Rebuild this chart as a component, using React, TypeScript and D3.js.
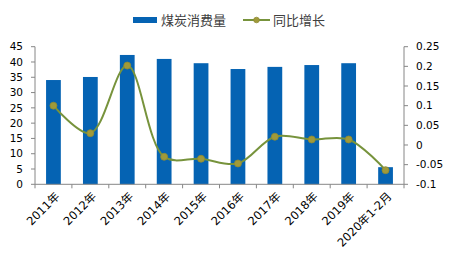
import React from "react";
import * as d3 from "d3";

const categories = ["2011年", "2012年", "2013年", "2014年", "2015年", "2016年", "2017年", "2018年", "2019年", "2020年1-2月"];
const consumption = [34.1, 35.1, 42.3, 41.0, 39.6, 37.7, 38.4, 39.0, 39.6, 5.6];
const growth = [0.1, 0.03, 0.202, -0.03, -0.035, -0.047, 0.021, 0.014, 0.014, -0.064];
const leftTicks = [0, 5, 10, 15, 20, 25, 30, 35, 40, 45];
const rightTicks = [-0.1, -0.05, 0, 0.05, 0.1, 0.15, 0.2, 0.25];
const rightTickLabels = ["-0.1", "-0.05", "0", "0.05", "0.1", "0.15", "0.2", "0.25"];

const W = 454, H = 265;
const L = 35, R = 404, T = 46.7, B = 184.3;
const font = "'DejaVu Sans', 'Noto Sans CJK SC', sans-serif";
const axisColor = "#868686";
const barColor = "#0563B3";
const lineColor = "#77933C";

export default function App() {
  const x = d3.scaleBand<string>().domain(categories).range([L, R]).paddingInner(0.6).paddingOuter(0.3);
  const xb = d3.scaleBand<string>().domain(categories).range([L, R]);
  const yL = d3.scaleLinear().domain([0, 45]).range([B, T]);
  const yR = d3.scaleLinear().domain([-0.1, 0.25]).range([B, T]);
  const line = d3.line<number>()
    .x((_, i) => (xb(categories[i]) as number) + xb.bandwidth() / 2)
    .y((d) => yR(d))
    .curve(d3.curveCatmullRom.alpha(0.5));
  const boundaries = d3.range(categories.length + 1).map((i) => L + i * xb.bandwidth());

  return (
    <svg width={W} height={H} style={{ position: "absolute", left: 0, top: 0 }} fontFamily={font}>
      <rect x={0} y={0} width={W} height={H} fill="#fff" />
      {/* legend */}
      <rect x={133} y={17} width={24} height={6} fill={barColor} />
      <text x={161} y={25} fontSize={13} fill="#404040" fontFamily="'Noto Sans CJK SC', sans-serif">煤炭消费量</text>
      <line x1={243} x2={270} y1={20} y2={20} stroke={lineColor} strokeWidth={2} />
      <circle cx={256.5} cy={20} r={2.8} fill="#A09A3A" stroke="#8E8A34" strokeWidth={0.8} />
      <text x={273} y={25} fontSize={13} fill="#404040" fontFamily="'Noto Sans CJK SC', sans-serif">同比增长</text>

      {/* bars */}
      {consumption.map((v, i) => (
        <rect key={i} x={x(categories[i])} y={yL(v)} width={x.bandwidth()} height={B - yL(v)} fill={barColor} />
      ))}

      {/* axes */}
      <line x1={L} x2={L} y1={T} y2={B} stroke={axisColor} />
      {leftTicks.map((t) => (
        <g key={t}>
          <line x1={L - 4} x2={L} y1={yL(t)} y2={yL(t)} stroke={axisColor} />
          <text x={23} y={yL(t)} dy="0.35em" textAnchor="end" fontSize={10.5} fill="#000">{t}</text>
        </g>
      ))}
      <line x1={R} x2={R} y1={T} y2={B} stroke={axisColor} />
      {rightTicks.map((t, i) => (
        <g key={i}>
          <line x1={R} x2={R + 4} y1={yR(t)} y2={yR(t)} stroke={axisColor} />
          <text x={416} y={yR(t)} dy="0.35em" textAnchor="start" fontSize={10.5} fill="#000">{rightTickLabels[i]}</text>
        </g>
      ))}
      <line x1={L} x2={R} y1={B} y2={B} stroke={axisColor} />
      {boundaries.map((bx, i) => (
        <line key={i} x1={bx} x2={bx} y1={B} y2={B + 4} stroke={axisColor} />
      ))}
      {categories.map((c) => {
        const cx = (xb(c) as number) + xb.bandwidth() / 2 + 4;
        const cy = B + 10;
        return (
          <text key={c} x={cx} y={cy} transform={`rotate(-45 ${cx} ${cy})`} textAnchor="end" dy="0.35em" fontSize={11.5} fill="#000">{c}</text>
        );
      })}

      {/* line */}
      <path d={line(growth) as string} fill="none" stroke={lineColor} strokeWidth={2} />
      {growth.map((v, i) => (
        <circle key={i} cx={(xb(categories[i]) as number) + xb.bandwidth() / 2} cy={yR(v)} r={3.5} fill="#A09A3A" stroke="#8E8A34" strokeWidth={0.8} />
      ))}
    </svg>
  );
}
